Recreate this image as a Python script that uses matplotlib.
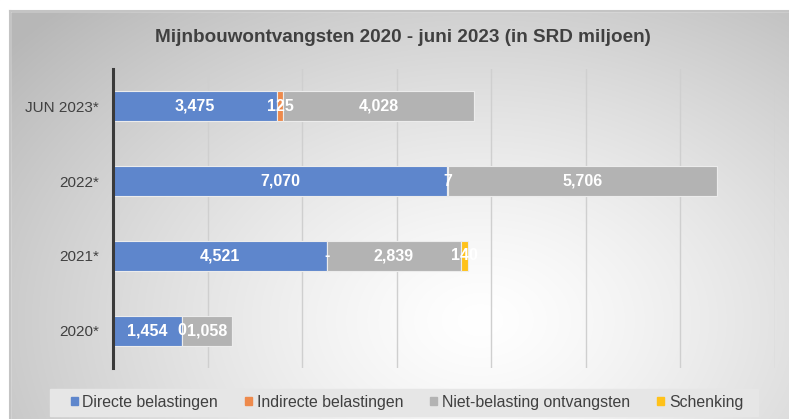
import numpy as np
import matplotlib
matplotlib.use("Agg")
import matplotlib.pyplot as plt
from matplotlib.patches import Patch, Rectangle

plt.rcParams['font.family'] = ['Liberation Sans', 'DejaVu Sans']

# data (bottom to top)
years = ['2020*', '2021*', '2022*', 'JUN 2023*']
directe = [1454, 4521, 7070, 3475]
indirecte = [0.4, 0, 7, 125]
niet_belasting = [1058, 2839, 5706, 4028]
schenking = [np.nan, 140, np.nan, np.nan]

series_names = ['Directe belastingen', 'Indirecte belastingen',
                'Niet-belasting ontvangsten', 'Schenking']
colors = ['#5E86CC', '#EE8A4C', '#B3B3B3', '#FFC21A']

W, H = 789, 419
fig = plt.figure(figsize=(W / 100, H / 100), dpi=100)
fig.patch.set_facecolor('white')

# gradient background of the chart box
bg = fig.add_axes([0, 0, 1, 1], zorder=0)
xx, yy = np.meshgrid(np.arange(W), np.arange(H))
r = np.hypot((xx - 480) / 470, (yy - 320) / 330)
gray = 1 - 0.2 * np.clip(r, 0, 1.3) ** 1.3
img = np.dstack([gray, gray, gray])
bg.imshow(img, extent=[0, W, H, 0], aspect='auto')
bg.add_patch(Rectangle((0, 0), W, 11, color='white'))
bg.add_patch(Rectangle((0, 0), 10, H, color='white'))
bg.plot([10, W], [11, 11], color='#c4c4c4', lw=1.5)
bg.plot([10, 10], [11, H], color='#c4c4c4', lw=1.5)
bg.add_patch(Rectangle((50, 389), 708, 27, color='#e6e6e6'))
bg.set_xlim(0, W)
bg.set_ylim(H, 0)
bg.axis('off')

ax = fig.add_axes([113 / W, 1 - 368 / H, (775 - 113) / W, (368 - 69) / H], zorder=1)
ax.patch.set_alpha(0)

y = np.arange(len(years))
left = np.zeros(len(years))
all_series = [directe, indirecte, niet_belasting, schenking]
for vals, name, col in zip(all_series, series_names, colors):
    v = np.array(vals, dtype=float)
    w = np.nan_to_num(v)
    ax.barh(y, w, left=left, height=0.4, color=col, edgecolor='#ececec',
            linewidth=0.8, label=name, zorder=3)
    for i, val in enumerate(v):
        if np.isnan(val):
            continue
        txt = '-' if val == 0 else f'{val:,.0f}'
        ax.text(left[i] + w[i] / 2, y[i], txt, ha='center', va='center',
                color='white', fontsize=11.5, fontweight='bold', zorder=4)
    left += w

ax.set_xlim(0, 14000)
ax.set_ylim(-0.5, len(years) - 0.5)
ax.set_xticks(np.arange(2000, 14001, 2000))
ax.set_xticklabels([])
ax.tick_params(axis='x', length=0)
ax.grid(axis='x', color='#cfcfcf', lw=1, zorder=0)
ax.set_yticks(y)
ax.set_yticklabels(years, fontsize=11, color='#404040')
ax.tick_params(axis='y', length=0, pad=10)
for s in ['top', 'right', 'bottom']:
    ax.spines[s].set_visible(False)
ax.spines['left'].set_color('#3a3a3a')
ax.spines['left'].set_linewidth(2.2)
ax.spines['left'].set_zorder(5)

fig.text(403 / W, 1 - 37 / H, 'Mijnbouwontvangsten 2020 - juni 2023 (in SRD miljoen)',
         ha='center', va='center', fontsize=13.6, fontweight='bold', color='#404040')

handles = [Patch(color=c) for c in colors]
fig.legend(handles, series_names, loc='center', bbox_to_anchor=(407 / W, 1 - 402 / H),
           ncol=4, frameon=False, fontsize=11.4, handlelength=0.45, handleheight=0.45,
           handletextpad=0.3, columnspacing=1.7, labelcolor='#404040')

fig.savefig('out.png', dpi=100)
